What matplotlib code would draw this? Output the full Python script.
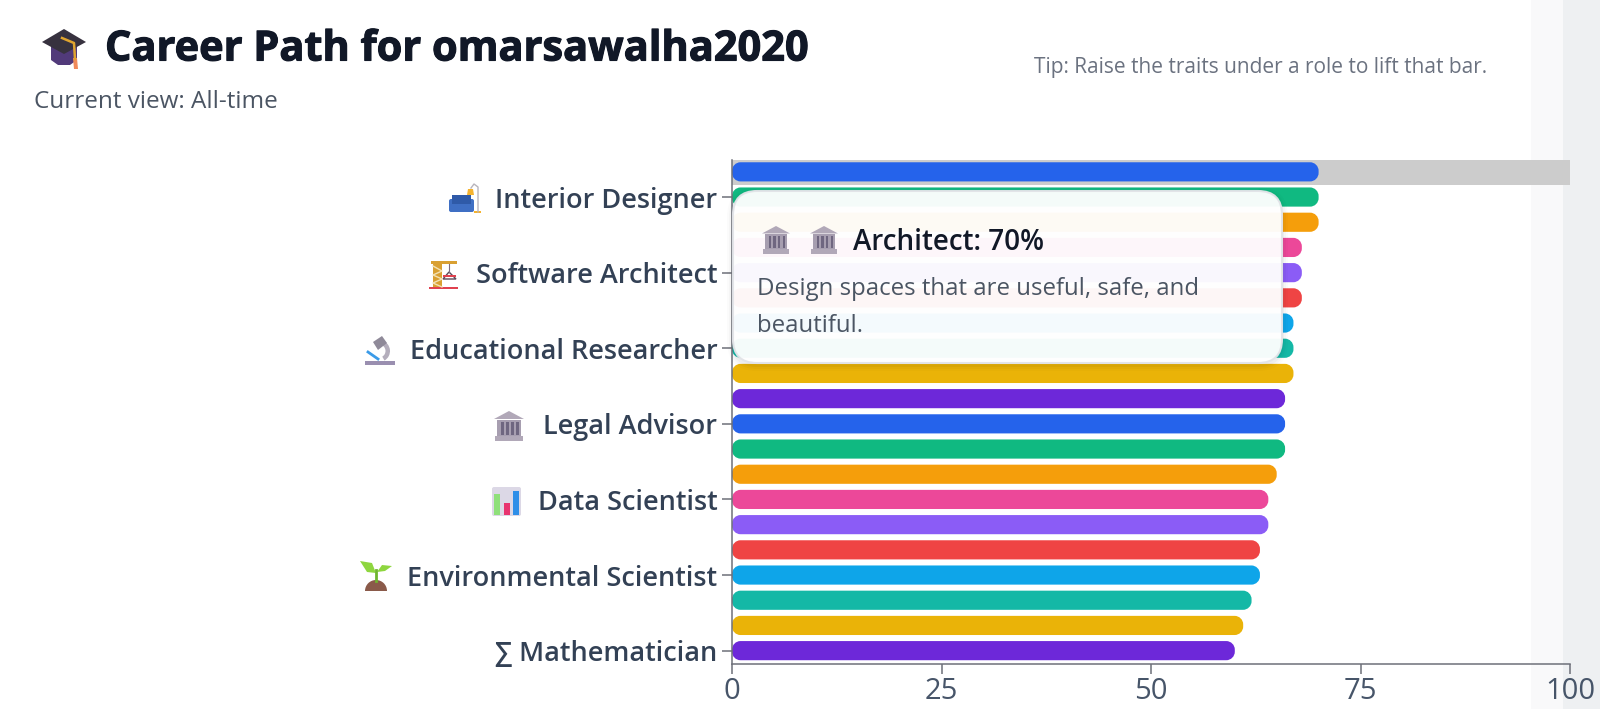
#!/usr/bin/env python
"""Career path bar chart with the hover tooltip open over the top bars."""

import matplotlib

matplotlib.use("Agg")
import matplotlib.pyplot as plt
from matplotlib import patheffects
from matplotlib.patches import FancyBboxPatch, PathPatch, Polygon, Rectangle, Wedge
from matplotlib.path import Path

plt.rcParams["font.family"] = ["Open Sans", "DejaVu Sans"]

W, H = 1600, 709

match_pct = [70, 70, 70, 68, 68, 68, 67, 67, 67, 66, 66, 66, 65, 64, 64, 63, 63, 62, 61, 60]
bar_colors = [
    "#2563eb", "#10b981", "#f59e0b", "#ec4899", "#8b5cf6",
    "#ef4444", "#0ea5e9", "#14b8a6", "#eab308", "#6d28d9",
]
tick_rows = [1, 4, 7, 10, 13, 16, 19]
tick_names = [
    "Interior Designer",
    "Software Architect",
    "Educational Researcher",
    "Legal Advisor",
    "Data Scientist",
    "Environmental Scientist",
    "∑ Mathematician",
]
x_ticks = [0, 25, 50, 75, 100]
hover_row = 0

AX_LEFT, AX_RIGHT = 732, 1570
AX_TOP, AX_BOTTOM = 160, 664
TEXT_DARK = "#111827"
LABEL = "#334155"
AXIS = "#6e7079"


def box_px(ax, x0, y0, x1, y1, r, **kw):
    ax.add_patch(
        FancyBboxPatch((x0, y0), x1 - x0, y1 - y0, boxstyle=f"round,pad=0,rounding_size={r}", **kw)
    )


def pill_path(x0, x1, y0, y1, rx, ry):
    # rounded bar with true elliptical corners, in data units
    k = 0.55
    verts = [
        (x0 + rx, y0), (x1 - rx, y0),
        (x1 - rx + k * rx, y0), (x1, y0 + ry - k * ry), (x1, y0 + ry),
        (x1, y1 - ry),
        (x1, y1 - ry + k * ry), (x1 - rx + k * rx, y1), (x1 - rx, y1),
        (x0 + rx, y1),
        (x0 + rx - k * rx, y1), (x0, y1 - ry + k * ry), (x0, y1 - ry),
        (x0, y0 + ry),
        (x0, y0 + ry - k * ry), (x0 + rx - k * rx, y0), (x0 + rx, y0),
    ]
    codes = [
        Path.MOVETO, Path.LINETO,
        Path.CURVE4, Path.CURVE4, Path.CURVE4,
        Path.LINETO,
        Path.CURVE4, Path.CURVE4, Path.CURVE4,
        Path.LINETO,
        Path.CURVE4, Path.CURVE4, Path.CURVE4,
        Path.LINETO,
        Path.CURVE4, Path.CURVE4, Path.CURVE4,
    ]
    return Path(verts, codes)


def temple(ax, x0, y0, size):
    s = size / 30
    light, dark = "#b1a8b8", "#6f6680"
    ax.add_patch(Polygon([(x0 + 15 * s, y0), (x0 + 30 * s, y0 + 8 * s), (x0, y0 + 8 * s)], color=light, lw=0))
    ax.add_patch(Rectangle((x0 + 3 * s, y0 + 9 * s), 24 * s, 16 * s, color="#a79eb0", lw=0))
    for cx in (8, 13, 18, 23):
        ax.add_patch(Rectangle((x0 + (cx - 1) * s, y0 + 11 * s), 2.6 * s, 13 * s, color=dark, lw=0))
    ax.add_patch(Rectangle((x0 + 1 * s, y0 + 25 * s), 28 * s, 5 * s, color=light, lw=0))


def grad_cap(ax, x0, y0):
    ax.add_patch(Polygon([(x0 + 9, y0 + 18), (x0 + 35, y0 + 18), (x0 + 35, y0 + 31), (x0 + 28, y0 + 36), (x0 + 16, y0 + 36), (x0 + 9, y0 + 31)], color="#513a7a", lw=0))
    ax.add_patch(Polygon([(x0 + 22, y0), (x0 + 44, y0 + 13), (x0 + 22, y0 + 25), (x0, y0 + 13)], color="#37323f", lw=0))
    ax.plot([x0 + 20, x0 + 32, x0 + 33], [y0 + 9, y0 + 14, y0 + 30], color="#e0a52f", lw=1.8)
    ax.add_patch(Polygon([(x0 + 31, y0 + 29), (x0 + 35, y0 + 29), (x0 + 36, y0 + 40), (x0 + 32, y0 + 40)], color="#f08a5b", lw=0))


def sofa_lamp(ax, x0, y0):
    box_px(ax, x0, y0 + 15, x0 + 25, y0 + 28, 2, color="#3f6fc4", lw=0)
    ax.add_patch(Rectangle((x0 + 3, y0 + 11), 19, 9, color="#2f5aa8", lw=0))
    ax.plot([x0 + 29, x0 + 29, x0 + 25, x0 + 22], [y0 + 28, y0 + 3, y0, y0 + 4], color="#b8b4bc", lw=1)
    ax.add_patch(Polygon([(x0 + 18, y0 + 11), (x0 + 19, y0 + 5), (x0 + 24, y0 + 5), (x0 + 25, y0 + 11)], color="#f5b32f", lw=0))
    ax.add_patch(Rectangle((x0 + 25, y0 + 27), 7, 2, color="#f5b32f", lw=0))


def crane(ax, x0, y0):
    ax.add_patch(Rectangle((x0 + 2, y0 + 1), 26, 3, color="#d9a032", lw=0))
    ax.add_patch(Rectangle((x0 + 4, y0 + 4), 9, 23, color="#d9a032", lw=0))
    ax.plot([x0 + 4, x0 + 13, x0 + 4, x0 + 13, x0 + 4, x0 + 13], [y0 + 6, y0 + 11, y0 + 15, y0 + 19, y0 + 23, y0 + 27], color="#f3e3b5", lw=1)
    ax.plot([x0 + 20, x0 + 20], [y0 + 4, y0 + 12], color="#7a6d80", lw=0.8)
    ax.add_patch(Polygon([(x0 + 20, y0 + 12), (x0 + 27, y0 + 19), (x0 + 14, y0 + 19)], fc="none", ec="#5a4a5a", lw=1))
    ax.add_patch(Rectangle((x0 + 14, y0 + 15), 13, 2, color="#e0414f", lw=0))
    ax.add_patch(Rectangle((x0, y0 + 27), 29, 1.5, color="#e0414f", lw=0))


def microscope(ax, x0, y0):
    ax.add_patch(Wedge((x0 + 14, y0 + 16), 11, -70, 60, width=4.5, color="#b4aebc", lw=0))
    ax.add_patch(Polygon([(x0 + 8, y0 + 7), (x0 + 17, y0 + 1), (x0 + 22, y0 + 8), (x0 + 13, y0 + 15)], color="#8f8a99", lw=0))
    ax.plot([x0 + 3, x0 + 13], [y0 + 17, y0 + 24], color="#3b9be8", lw=2)
    ax.add_patch(Rectangle((x0, y0 + 26), 30, 4, color="#9a8fb0", lw=0))


def data_chart(ax, x0, y0):
    box_px(ax, x0, y0, x0 + 29, y0 + 29, 2, color="#dcd8e6", lw=0)
    ax.add_patch(Rectangle((x0 + 2, y0 + 7), 6, 21, color="#8fe07a", lw=0))
    ax.add_patch(Rectangle((x0 + 12, y0 + 16), 6, 12, color="#e8336f", lw=0))
    ax.add_patch(Rectangle((x0 + 21, y0 + 4), 6, 24, color="#2f8fe8", lw=0))


def seedling(ax, x0, y0):
    ax.add_patch(Wedge((x0 + 16, y0 + 31), 11, 180, 360, color="#8a5a4a", lw=0))
    ax.plot([x0 + 16, x0 + 16], [y0 + 21, y0 + 10], color="#6fb52f", lw=2)
    ax.add_patch(Polygon([(x0 + 16, y0 + 13), (x0 + 7, y0 + 12), (x0, y0 + 1), (x0 + 12, y0 + 3)], color="#8ed63f", lw=0))
    ax.add_patch(Polygon([(x0 + 17, y0 + 12), (x0 + 25, y0 + 11), (x0 + 32, y0 + 6), (x0 + 22, y0 + 5)], color="#8ed63f", lw=0))


fig = plt.figure(figsize=(W / 100, H / 100), dpi=100, facecolor="white")

# page layer in pixel coordinates, y pointing down
bg = fig.add_axes([0, 0, 1, 1], zorder=0)
bg.set_xlim(0, W)
bg.set_ylim(H, 0)
bg.axis("off")
bg.add_patch(Rectangle((1531, 0), 32, H, color="#f9f9fa", lw=0))
bg.add_patch(Rectangle((1563, 0), 37, H, color="#eef0f2", lw=0))

ax = fig.add_axes(
    [AX_LEFT / W, 1 - AX_BOTTOM / H, (AX_RIGHT - AX_LEFT) / W, (AX_BOTTOM - AX_TOP) / H],
    zorder=1,
)
ax.patch.set_alpha(0)
ax.set_xlim(0, 100)
ax.set_ylim(len(match_pct) - 0.47, -0.47)

px_x = (AX_RIGHT - AX_LEFT) / 100
px_y = (AX_BOTTOM - AX_TOP) / len(match_pct)
bar_h = 0.76
rx = 8.5 / px_x
ry = 8.5 / px_y

ax.axhspan(hover_row - 0.46, hover_row + 0.52, color="#cccccc", lw=0, zorder=1)
for i, val in enumerate(match_pct):
    ax.add_patch(
        PathPatch(
            pill_path(0, val, i - bar_h / 2, i + bar_h / 2, rx, ry),
            color=bar_colors[i % len(bar_colors)],
            lw=0,
            zorder=2,
        )
    )

ax.set_yticks(tick_rows)
ax.set_yticklabels(tick_names, fontsize=19.5, fontweight="semibold", color=LABEL)
ax.set_xticks(x_ticks)
ax.set_xticklabels([str(t) for t in x_ticks], fontsize=21, color="#475569")
ax.tick_params(axis="y", length=7.5, width=1.1, color=AXIS, pad=3)
ax.tick_params(axis="x", length=7.5, width=1.1, color=AXIS, pad=2)
for side in ("top", "right"):
    ax.spines[side].set_visible(False)
for side in ("left", "bottom"):
    ax.spines[side].set_color(AXIS)
    ax.spines[side].set_linewidth(1.1)

# overlay for title, tooltip and icons
top = fig.add_axes([0, 0, 1, 1], zorder=2)
top.set_xlim(0, W)
top.set_ylim(H, 0)
top.axis("off")
top.patch.set_alpha(0)

grad_cap(top, 42, 29)
top.text(105, 50, "Career Path for omarsawalha2020", fontsize=29.9, fontweight="bold", color=TEXT_DARK, va="center",
         path_effects=[patheffects.withStroke(linewidth=0.8, foreground=TEXT_DARK)])
top.text(34, 102, "Current view: All-time", fontsize=17.5, color="#4b5563", va="center")
top.text(1034, 68, "Tip: Raise the traits under a role to lift that bar.", fontsize=15, color="#6b7280", va="center")

sofa_lamp(top, 449, 184)
crane(top, 429, 260)
microscope(top, 365, 335)
temple(top, 494, 411, 30)
data_chart(top, 492, 487)
seedling(top, 360, 560)

# soft shadow round the tooltip, then the tooltip itself
for grow, alpha in ((6, 0.015), (4, 0.025), (2, 0.03)):
    box_px(top, 733 - grow, 191 - grow + 2, 1282 + grow, 363 + grow + 2, 24 + grow, fc="black", lw=0, alpha=alpha)
box_px(top, 733, 191, 1282, 363, 24, fc="white", ec="#e2e4e8", lw=1.5, alpha=0.96)
temple(top, 762, 226, 28)
temple(top, 810, 226, 28)
top.text(853, 243, "Architect: 70%", fontsize=20, fontweight="semibold", color=TEXT_DARK, va="center")
top.text(757, 289, "Design spaces that are useful, safe, and", fontsize=17.3, color="#4b5563", va="center")
top.text(757, 326, "beautiful.", fontsize=17.3, color="#4b5563", va="center")

fig.savefig("out.png", dpi=100)
